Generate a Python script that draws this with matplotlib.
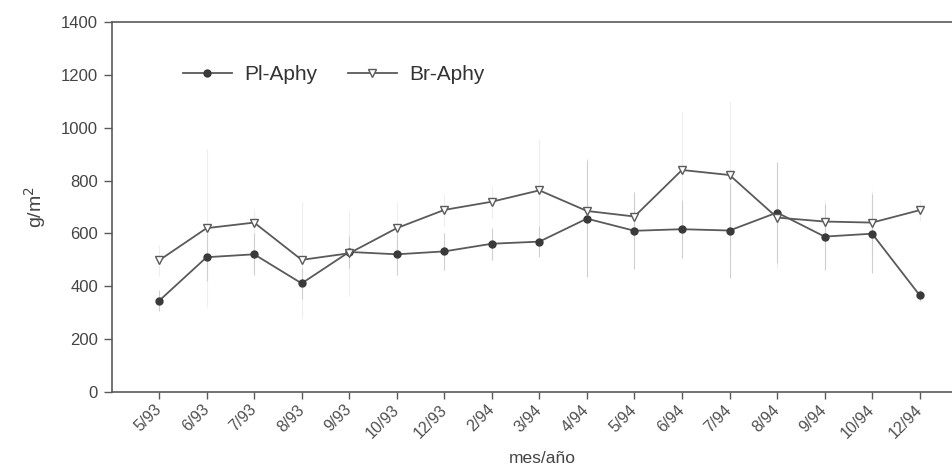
import matplotlib
matplotlib.use("Agg")
import matplotlib.pyplot as plt
import matplotlib.transforms as mtransforms
import numpy as np

plt.rcParams['font.family'] = ['Liberation Sans', 'DejaVu Sans']

months = ["5/93", "6/93", "7/93", "8/93", "9/93", "10/93", "12/93", "2/94", "3/94",
          "4/94", "5/94", "6/94", "7/94", "8/94", "9/94", "10/94", "12/94"]
pl_aphy = [345, 510, 521, 411, 530, 521, 532, 561, 569, 656, 610, 616, 611, 679, 588, 599, 366]
br_aphy = [498, 620, 641, 500, 525, 620, 689, 720, 763, 685, 664, 840, 821, 660, 645, 641, 688]
pl_err = [40, 90, 80, 60, 60, 80, 70, 60, 60, 220, 145, 110, 180, 190, 125, 150, 20]
br_err = [60, 300, 50, 220, 160, 100, 60, 60, 195, 200, 80, 220, 280, 190, 80, 120, 40]

fig = plt.figure(figsize=(9.52, 4.66), dpi=100)
ax = fig.add_axes([112/952, 1-392/466, 1-112/952, 370/466])

x = np.arange(len(months))
line_col = "#5a5a5a"

ax.errorbar(x, br_aphy, yerr=br_err, fmt='none', ecolor="#eeeeee", elinewidth=0.8, capsize=0, zorder=1)
ax.errorbar(x, pl_aphy, yerr=pl_err, fmt='none', ecolor="#cfcfcf", elinewidth=0.8, capsize=0, zorder=1)

ax.plot(x, pl_aphy, color=line_col, lw=1.3, marker='o', markersize=5,
        markerfacecolor="#3a3a3a", markeredgecolor="#3a3a3a", label="Pl-Aphy", zorder=3)
ax.plot(x, br_aphy, color=line_col, lw=1.3, marker='v', markersize=6,
        markerfacecolor="white", markeredgecolor=line_col, markeredgewidth=1.0,
        label="Br-Aphy", zorder=3)

ax.set_xlim(-0.99, 16.68)
ax.set_ylim(0, 1400)
ax.set_yticks(np.arange(0, 1401, 200))
ax.set_xticks(x)
ax.set_xticklabels(months, rotation=45, ha='right', va='center', rotation_mode='anchor',
                   fontsize=11.5, color="#505050")
offset = mtransforms.ScaledTranslation(5/100, -2/100, fig.dpi_scale_trans)
for lab in ax.get_xticklabels():
    lab.set_transform(lab.get_transform() + offset)
ax.tick_params(axis='x', pad=6, length=5, color=line_col, width=1.0)
ax.tick_params(axis='y', labelsize=12, labelcolor="#444444", length=6, color=line_col, width=1.0, pad=4)

for s in ['left', 'top', 'bottom']:
    ax.spines[s].set_color(line_col)
    ax.spines[s].set_linewidth(1.2)
ax.spines['right'].set_visible(False)

ax.set_ylabel("g/m$^2$", fontsize=14, color="#444444")
ax.yaxis.set_label_coords(-0.076, 0.5)
ax.set_xlabel("mes/año", fontsize=12.5, color="#444444")
ax.xaxis.set_label_coords((542-112)/840, -0.16)

leg = ax.legend(loc='upper left', bbox_to_anchor=(0.062, 0.935), ncol=2, frameon=False,
                fontsize=15, handlelength=2.35, columnspacing=1.45, handletextpad=0.6,
                labelcolor="#333333")

fig.savefig("out.png", dpi=100)
